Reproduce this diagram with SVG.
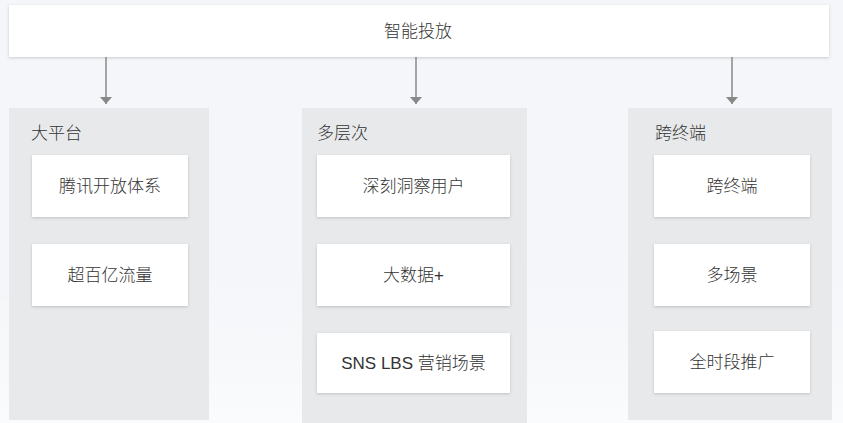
<svg xmlns="http://www.w3.org/2000/svg" width="843" height="423" viewBox="0 0 843 423">
<style>
.t{font-family:"Liberation Sans","Noto Sans CJK SC",sans-serif;font-size:17px;font-weight:300;fill:#333;dominant-baseline:central}
.c{text-anchor:middle}
.panel{fill:#e8e9eb}
.box{fill:#fff;filter:url(#sh)}
.con{stroke:#888;stroke-width:1.5;fill:none}
</style>
<defs>
<filter id="sh" x="-10%" y="-20%" width="120%" height="150%">
<feDropShadow dx="0" dy="1" stdDeviation="1.5" flood-color="#000" flood-opacity="0.18"/>
</filter>
<marker id="ah" markerWidth="7" markerHeight="12" refX="7" refY="6" orient="auto" markerUnits="userSpaceOnUse" viewBox="0 0 7 12">
<path d="M0,0 L7,6 L0,12 Z" fill="#888"/>
</marker>
<linearGradient id="bg" x1="0" y1="0" x2="0" y2="1">
<stop offset="0" stop-color="#f4f6f9" stop-opacity="0"/>
<stop offset="1" stop-color="#ffffff" stop-opacity="0.6"/>
</linearGradient>
</defs>
<rect width="843" height="423" fill="#f4f6f9"/>
<path d="M0,300 L843,230 L843,423 L0,423 Z" fill="url(#bg)"/>
<g id="top">
<rect class="box" x="9" y="5" width="820" height="52"/>
<text class="t c" x="418" y="31">智能投放</text>
</g>
<g id="connectors">
<line class="con" x1="106" y1="57" x2="106" y2="104" marker-end="url(#ah)"/>
<line class="con" x1="416" y1="57" x2="416" y2="104" marker-end="url(#ah)"/>
<line class="con" x1="732" y1="57" x2="732" y2="104" marker-end="url(#ah)"/>
</g>
<g id="panel1">
<rect class="panel" x="9" y="108" width="200" height="312"/>
<text class="t" x="31" y="133">大平台</text>
</g>
<g id="n1a"><rect class="box" x="32" y="155" width="156" height="62"/><text class="t c" x="110" y="186">腾讯开放体系</text></g>
<g id="n1b"><rect class="box" x="32" y="244" width="156" height="62"/><text class="t c" x="110" y="275">超百亿流量</text></g>
<g id="panel2">
<rect class="panel" x="302" y="108" width="225" height="315"/>
<text class="t" x="317" y="133">多层次</text>
</g>
<g id="n2a"><rect class="box" x="317" y="155" width="193" height="62"/><text class="t c" x="413.5" y="186">深刻洞察用户</text></g>
<g id="n2b"><rect class="box" x="317" y="244" width="193" height="62"/><text class="t c" x="413.5" y="275">大数据+</text></g>
<g id="n2c"><rect class="box" x="317" y="333" width="193" height="60"/><text class="t c" x="413.5" y="363">SNS LBS 营销场景</text></g>
<g id="panel3">
<rect class="panel" x="628" y="108" width="204" height="312"/>
<text class="t" x="655" y="133">跨终端</text>
</g>
<g id="n3a"><rect class="box" x="654" y="155" width="156" height="62"/><text class="t c" x="732" y="186">跨终端</text></g>
<g id="n3b"><rect class="box" x="654" y="244" width="156" height="62"/><text class="t c" x="732" y="275">多场景</text></g>
<g id="n3c"><rect class="box" x="654" y="331" width="156" height="62"/><text class="t c" x="732" y="362">全时段推广</text></g>
</svg>
